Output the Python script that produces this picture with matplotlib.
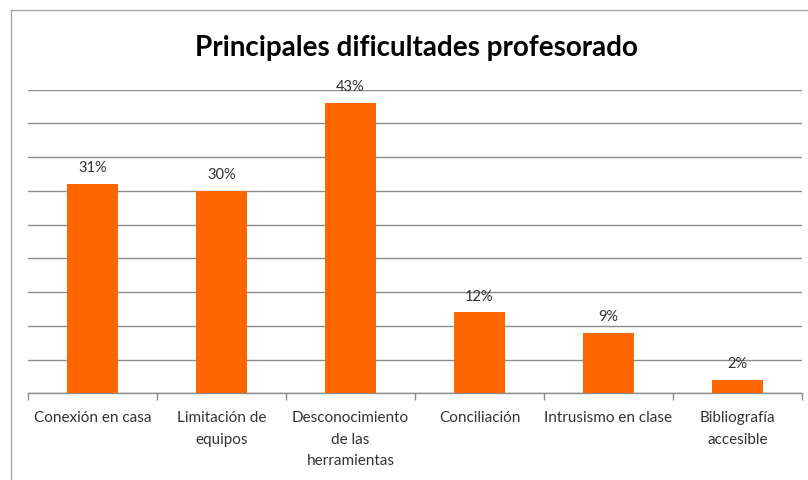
import matplotlib
matplotlib.use("Agg")
import matplotlib.pyplot as plt
from matplotlib.lines import Line2D

# Data
categories = ["Conexión en casa", "Limitación de\nequipos", "Desconocimiento\nde las\nherramientas",
              "Conciliación", "Intrusismo en clase", "Bibliografía\naccesible"]
values = [31, 30, 43, 12, 9, 2]
title = "Principales dificultades profesorado"

W, H = 808, 481
fig = plt.figure(figsize=(W / 100, H / 100), dpi=100)
ax = fig.add_axes([28 / W, 1 - 394.3 / H, (802 - 28) / W, (394.3 - 90.7) / H])

x = list(range(len(categories)))
ax.bar(x, values, width=0.4, color="#FF6600", zorder=3)

ax.set_ylim(0, 45)
ax.set_xlim(-0.5, len(categories) - 0.5)
ax.set_yticks(range(0, 46, 5))
ax.tick_params(axis="y", length=0, labelleft=False)
ax.grid(axis="y", color="#8c8c8c", linewidth=1.0, zorder=0)

# category labels at centers, boundary ticks as minor ticks
ax.set_xticks(x)
ax.set_xticklabels(categories, fontsize=11, family="Lato", color="#333333", linespacing=1.7)
ax.tick_params(axis="x", which="major", length=0, pad=12)
ax.set_xticks([i - 0.5 for i in range(len(categories) + 1)], minor=True)
ax.tick_params(axis="x", which="minor", length=5, color="#8c8c8c", width=1)

for s in ["top", "right", "left"]:
    ax.spines[s].set_visible(False)
ax.spines["bottom"].set_color("#8c8c8c")
ax.spines["bottom"].set_linewidth(1)

for xi, v in zip(x, values):
    ax.annotate(f"{v}%", (xi, v), xytext=(0, 7), textcoords="offset points",
                ha="center", va="bottom", fontsize=10.5, family="Lato", color="#333333")

fig.text(0.515, 1 - 48 / H, title, ha="center", va="center", fontsize=20,
         fontweight="bold", family="Lato", color="black")

# chart border
bx, by = 11 / W, 1 - 11 / H
fig.add_artist(Line2D([bx, 1], [by, by], transform=fig.transFigure, color="#a6a6a6", linewidth=1))
fig.add_artist(Line2D([bx, bx], [0, by], transform=fig.transFigure, color="#a6a6a6", linewidth=1))

fig.savefig("out.png", dpi=100)
